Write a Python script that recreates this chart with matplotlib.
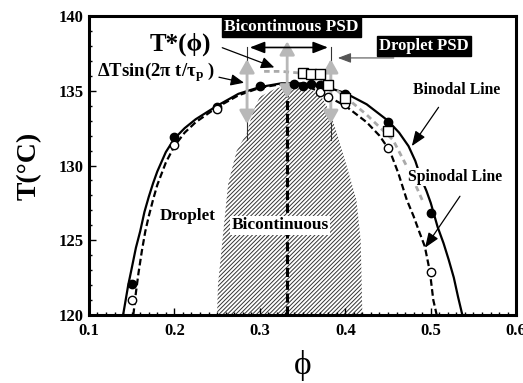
import matplotlib
matplotlib.use("Agg")
import matplotlib.pyplot as plt
from matplotlib.ticker import MultipleLocator

plt.rcParams['font.family'] = ['Liberation Serif', 'DejaVu Serif']
plt.rcParams['font.weight'] = 'bold'
plt.rcParams['mathtext.fontset'] = 'custom'
plt.rcParams['mathtext.rm'] = 'Liberation Serif:bold'
plt.rcParams['mathtext.bf'] = 'Liberation Serif:bold'
plt.rcParams['mathtext.it'] = 'Liberation Serif:bold'
plt.rcParams['hatch.linewidth'] = 0.7
plt.rcParams['hatch.color'] = '#333333'

# ---- data ----
cloud_phi = [0.15, 0.20, 0.25, 0.30, 0.34, 0.35, 0.36, 0.37, 0.40, 0.45, 0.50]
cloud_T = [122.1, 131.9, 133.9, 135.3, 135.45, 135.3, 135.45, 135.4, 134.8, 132.9, 126.8]

spin_phi = [0.15, 0.20, 0.25, 0.37, 0.38, 0.40, 0.45, 0.50]
spin_T = [121.0, 131.4, 133.8, 134.9, 134.6, 134.1, 131.2, 122.9]

tstar_phi = [0.35, 0.36, 0.37, 0.38, 0.40, 0.45]
tstar_T = [136.2, 136.1, 136.1, 135.4, 134.5, 132.3]

binodal_phi = [0.140, 0.143, 0.146, 0.150, 0.155, 0.160, 0.165, 0.170, 0.175, 0.180,
               0.190, 0.200, 0.212, 0.225, 0.250, 0.275, 0.300, 0.325, 0.350, 0.375,
               0.400, 0.425, 0.450, 0.463, 0.474, 0.482, 0.488, 0.495, 0.500, 0.508,
               0.515, 0.521, 0.527, 0.532, 0.537]
binodal_T = [120.0, 121.0, 122.0, 123.1, 124.5, 125.6, 126.9, 127.9, 128.8, 129.6,
             130.9, 131.8, 132.5, 133.1, 134.0, 134.8, 135.25, 135.5, 135.5, 135.3,
             134.85, 134.1, 133.0, 132.2, 131.3, 130.3, 129.25, 128.3, 127.5, 125.9,
             124.8, 123.7, 122.5, 121.2, 120.0]

spinodal_phi = [0.152, 0.155, 0.158, 0.162, 0.166, 0.170, 0.175, 0.180, 0.190, 0.200,
                0.212, 0.225, 0.250, 0.275, 0.300, 0.325, 0.340, 0.360, 0.380, 0.400,
                0.425, 0.440, 0.452, 0.462, 0.472, 0.480, 0.487, 0.493, 0.499, 0.503,
                0.507]
spinodal_T = [120.0, 121.5, 122.8, 124.3, 125.6, 126.6, 127.7, 128.7, 130.2, 131.3,
              132.2, 132.9, 133.9, 134.7, 135.2, 135.45, 135.45, 135.2, 134.6, 134.0,
              132.9, 132.0, 131.0, 129.5, 127.7, 126.6, 125.5, 124.6, 122.9, 121.0,
              120.0]

tcurve_phi = [0.305, 0.325, 0.345, 0.365, 0.380, 0.386, 0.400, 0.425, 0.456, 0.476, 0.490]
tcurve_T = [136.3, 136.3, 136.2, 136.0, 135.5, 135.2, 134.6, 133.4, 131.7, 129.5, 127.7]

bico_phi = [0.250, 0.251, 0.255, 0.263, 0.273, 0.285, 0.292, 0.300, 0.320, 0.340, 0.360,
            0.372, 0.382, 0.390, 0.402, 0.413, 0.418, 0.420]
bico_T = [120.0, 122.0, 124.3, 128.8, 131.0, 132.2, 133.6, 134.6, 135.2, 135.3, 135.1,
          134.6, 133.6, 132.2, 129.9, 127.7, 125.0, 120.0]

phi_c = 0.332
psd_left, psd_right = 0.285, 0.383

fig = plt.figure(figsize=(5.23, 3.83), dpi=100)
ax = fig.add_axes([0.170, 0.1775, 0.817, 0.7805])

# hatched bicontinuous region
ax.fill(bico_phi, bico_T, facecolor='white', edgecolor='#333333', hatch='////////',
        linewidth=0, zorder=1)

# curves
ax.plot(binodal_phi, binodal_T, color='black', lw=1.6, zorder=3)
ax.plot(spinodal_phi, spinodal_T, color='black', lw=1.6, ls=(0, (3, 1.5)), zorder=3)
ax.plot(tcurve_phi, tcurve_T, color='#aaaaaa', lw=2.0, ls=(0, (2, 1.5)), zorder=3)

# critical composition line
ax.plot([phi_c, phi_c], [120, 135.5], color='black', lw=2.2, ls=(0, (3, 1.2)), zorder=4)

# thin vertical lines at PSD boundaries
for p in (psd_left, psd_right):
    ax.plot([p, p], [131.7, 137.9], color='#333333', lw=0.8, zorder=4)

# gray double arrows (temperature oscillation)
gray_arrows = [(psd_left, 132.6, 137.3), (phi_c, 134.3, 138.5), (psd_right, 132.6, 137.3)]
for p, lo, hi in gray_arrows:
    ax.annotate('', xy=(p, hi), xytext=(p, lo),
                arrowprops=dict(arrowstyle='<|-|>,head_length=0.8,head_width=0.45',
                                color='#b8b8b8', lw=2.0), zorder=5)

# markers
ax.plot(cloud_phi, cloud_T, 'o', ms=6, mfc='black', mec='black', zorder=6)
ax.plot(spin_phi, spin_T, 'o', ms=6, mfc='white', mec='black', mew=1.0, zorder=6)
ax.plot(tstar_phi, tstar_T, 's', ms=6.5, mfc='white', mec='black', mew=1.0, zorder=6)

# PSD horizontal double arrow
ax.annotate('', xy=(psd_right, 137.9), xytext=(psd_left, 137.9),
            arrowprops=dict(arrowstyle='<|-|>,head_length=0.9,head_width=0.35',
                            color='black', lw=1.2), zorder=7)

# labels with black boxes
ax.text(0.337, 139.3, 'Bicontinuous PSD', color='white', fontsize=12.5, fontweight='bold',
        ha='center', va='center', zorder=8,
        bbox=dict(boxstyle='square,pad=0.12', fc='black', ec='black'))
ax.text(0.4925, 138.0, 'Droplet PSD', color='white', fontsize=12, fontweight='bold',
        ha='center', va='center', zorder=8,
        bbox=dict(boxstyle='square,pad=0.12', fc='black', ec='black'))
ax.annotate('', xy=(0.388, 137.2), xytext=(0.46, 137.2),
            arrowprops=dict(arrowstyle='-|>,head_length=0.8,head_width=0.3',
                            color='#555555', lw=0.8), zorder=7)

ax.text(0.207, 138.1, 'T*(ϕ)', fontsize=18, fontweight='bold', ha='center',
        va='center', zorder=8)
ax.annotate('', xy=(0.320, 136.5), xytext=(0.253, 137.95),
            arrowprops=dict(arrowstyle='-|>,head_length=0.8,head_width=0.35',
                            color='black', lw=0.9), zorder=7)

ax.text(0.109, 136.25, r'ΔTsin(2π t/τ$_\mathbf{p}$ )', fontsize=13.5,
        fontweight='bold', ha='left', va='center', zorder=8)
ax.annotate('', xy=(0.2847, 135.5), xytext=(0.249, 135.95),
            arrowprops=dict(arrowstyle='-|>,head_length=0.8,head_width=0.35',
                            color='black', lw=0.9), zorder=7)

ax.text(0.530, 135.05, 'Binodal Line', fontsize=11.3, fontweight='bold', ha='center',
        va='center', zorder=8)
ax.annotate('', xy=(0.476, 131.15), xytext=(0.511, 134.05),
            arrowprops=dict(arrowstyle='-|>,head_length=0.9,head_width=0.35',
                            color='black', lw=0.9), zorder=7)

ax.text(0.5286, 129.25, 'Spinodal Line', fontsize=11.3, fontweight='bold', ha='center',
        va='center', zorder=8,
        bbox=dict(boxstyle='square,pad=0.05', fc='white', ec='none'))
ax.annotate('', xy=(0.4915, 124.35), xytext=(0.536, 128.1),
            arrowprops=dict(arrowstyle='-|>,head_length=0.9,head_width=0.35',
                            color='black', lw=0.9), zorder=7)

ax.text(0.2153, 126.6, 'Droplet', fontsize=12.3, fontweight='bold', ha='center',
        va='center', zorder=8)
ax.text(0.3237, 126.0, 'Bicontinuous', fontsize=12.5, fontweight='bold', ha='center',
        va='center', zorder=8,
        bbox=dict(boxstyle='square,pad=0.1', fc='white', ec='none'))

# axes
ax.set_xlim(0.1, 0.6)
ax.set_ylim(120, 140)
ax.xaxis.set_minor_locator(MultipleLocator(0.01))
ax.yaxis.set_major_locator(MultipleLocator(5))
ax.yaxis.set_minor_locator(MultipleLocator(1))
ax.set_xticks([0.1, 0.2, 0.3, 0.4, 0.5, 0.6])
ax.set_xticklabels(['0.1', '0.2', '0.3', '0.4', '0.5', '0.6'])
ax.tick_params(which='both', direction='in', labelsize=12, width=1.0)
ax.tick_params(which='major', length=5)
ax.tick_params(which='minor', length=2.5)
ax.tick_params(axis='x', pad=6)
ax.tick_params(axis='y', pad=4)
for lab in ax.get_xticklabels() + ax.get_yticklabels():
    lab.set_fontweight('bold')
for s in ax.spines.values():
    s.set_linewidth(2.2)

ax.set_xlabel('ϕ', fontsize=24, fontweight='normal', labelpad=8)
ax.set_ylabel('T(°C)', fontsize=20, fontweight='bold', labelpad=12)

fig.savefig('out.png', dpi=100)
